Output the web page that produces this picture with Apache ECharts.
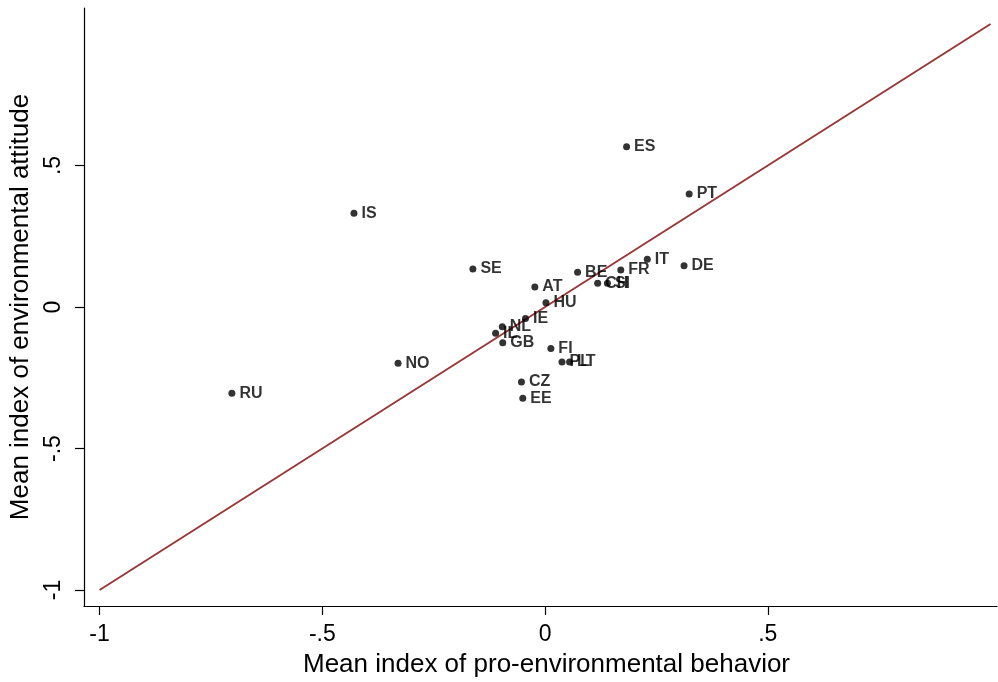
<!DOCTYPE html>
<html>
<head>
<meta charset="utf-8">
<script src="https://cdn.jsdelivr.net/npm/echarts@6/dist/echarts.min.js"></script>
<style>html,body{margin:0;padding:0;background:#fff}#c{width:998px;height:682px}</style>
</head>
<body>
<div id="c"></div>
<script>
var countries = ["ES","PT","IS","SE","IT","DE","FR","BE","CH","SI","AT","HU","IE","NL","IL","GB","FI","PL","LT","CZ","EE","NO","RU"];
var behavior  = [0.183,0.3235,-0.429,-0.162,0.2295,0.312,0.170,0.073,0.118,0.140,-0.023,0.002,-0.044,-0.096,-0.111,-0.095,0.013,0.038,0.055,-0.053,-0.050,-0.330,-0.703];
var attitude  = [0.566,0.399,0.331,0.134,0.1685,0.146,0.131,0.123,0.084,0.084,0.071,0.015,-0.041,-0.070,-0.093,-0.126,-0.147,-0.194,-0.194,-0.265,-0.322,-0.199,-0.305];
var lineX = [-1, 1];
var lineY = [-1, 1];
var tickValues = [-1, -0.5, 0, 0.5];
var tickLabels = ["-1", "-.5", "0", ".5"];

var pts = countries.map(function(c, i){ return {name: c, value: [behavior[i], attitude[i]]}; });
var linePts = lineX.map(function(x, i){ return [x, lineY[i]]; });
function fmt(v){ var i = tickValues.indexOf(Math.round(v*100)/100); return i >= 0 ? tickLabels[i] : ''; }

var chart = echarts.init(document.getElementById('c'), null, {renderer: 'canvas'});
chart.setOption({
  animation: false,
  backgroundColor: '#fff',
  grid: {left: 84, right: 1, top: 8, bottom: 76, containLabel: false, outerBoundsMode: 'none'},
  xAxis: {
    type: 'value', min: -1.035, max: 1.0145,
    name: 'Mean index of pro-environmental behavior', nameLocation: 'middle', nameGap: 46,
    nameTextStyle: {fontFamily: 'Liberation Sans', fontSize: 26, color: '#000', padding: [0, 0, 0, 12]},
    axisLine: {show: true, onZero: false, lineStyle: {color: '#000', width: 1.2}},
    axisTick: {show: true, length: 9, customValues: tickValues, lineStyle: {color: '#000', width: 1.2}},
    axisLabel: {customValues: tickValues, formatter: fmt, fontFamily: 'Liberation Sans', fontSize: 23, color: '#000', margin: 17},
    splitLine: {show: false}
  },
  yAxis: {
    type: 'value', min: -1.0565, max: 1.0565,
    name: 'Mean index of environmental attitude', nameLocation: 'middle', nameGap: 46,
    nameTextStyle: {fontFamily: 'Liberation Sans', fontSize: 26, color: '#000'},
    axisLine: {show: true, onZero: false, lineStyle: {color: '#000', width: 1.2}},
    axisTick: {show: true, length: 9, customValues: tickValues, lineStyle: {color: '#000', width: 1.2}},
    axisLabel: {customValues: tickValues, formatter: fmt, rotate: 90, fontFamily: 'Liberation Sans', fontSize: 23, color: '#000', margin: 19},
    splitLine: {show: false}
  },
  series: [
    {
      type: 'line', data: linePts, symbol: 'none', silent: true,
      lineStyle: {color: '#993838', width: 2}, z: 1
    },
    {
      type: 'scatter', data: pts, symbol: 'circle', symbolSize: 7,
      itemStyle: {color: '#000'}, z: 2,
      label: {show: true, position: 'right', distance: 4, formatter: '{b}',
        fontFamily: 'Liberation Sans', fontSize: 16, color: '#000', fontWeight: 'bold'},
      labelLayout: {hideOverlap: false}
    }
  ]
});
</script>
</body>
</html>
